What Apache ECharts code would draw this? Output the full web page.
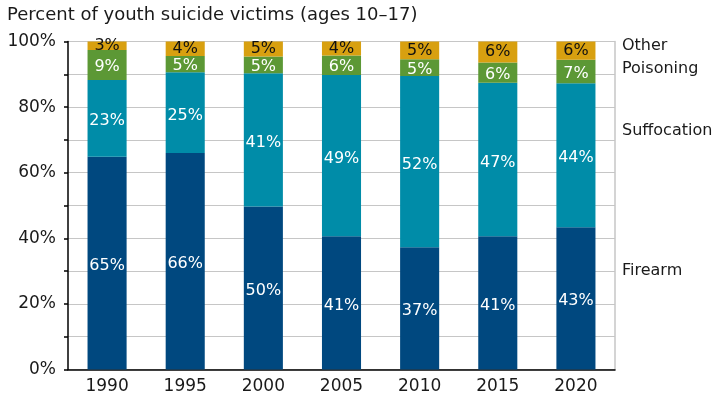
<!DOCTYPE html>
<html>
<head>
<meta charset="utf-8">
<script src="https://cdn.jsdelivr.net/npm/echarts@6/dist/echarts.min.js"></script>
<style>
  html, body { margin: 0; padding: 0; background: #fff; }
  #chart { width: 712px; height: 396px; }
</style>
</head>
<body>
<div id="chart"></div>
<script>
// values (percent of victims)
var years = ['1990', '1995', '2000', '2005', '2010', '2015', '2020'];
var firearm     = [64.9, 66.0, 49.7, 40.6, 37.3, 40.6, 43.4];
var suffocation = [23.4, 24.6, 40.6, 49.2, 52.2, 46.8, 43.9];
var poisoning   = [9.1, 5.0, 5.1, 5.9, 5.1, 6.2, 7.1];
var other       = [2.6, 4.4, 4.6, 4.3, 5.4, 6.4, 5.6];

var seriesNames = ['Firearm', 'Suffocation', 'Poisoning', 'Other'];
var seriesColors = ['#00487f', '#008ca8', '#5c9835', '#d8a010'];
var labelColors = ['#fff', '#fff', '#fff', '#111'];
var labelShift = [3, 3, 2, 0];
// where the right-hand names sit, in axis percent
var nameAt = [29.5, 72, 91, 98];

var FONT = 'DejaVu Sans';
var chart = echarts.init(document.getElementById('chart'));

var dataSets = [firearm, suffocation, poisoning, other];
var series = [];
for (var i = 0; i < dataSets.length; i++) {
  series.push({
    name: seriesNames[i],
    type: 'bar',
    stack: 'all',
    barWidth: '50%',
    data: dataSets[i],
    itemStyle: { color: seriesColors[i] },
    label: {
      show: true,
      position: 'inside',
      offset: [0, labelShift[i]],
      fontFamily: FONT,
      fontSize: 16,
      color: labelColors[i],
      formatter: function (p) { return Math.round(p.value) + '%'; }
    },
    emphasis: { disabled: true }
  });
}

var option = {
  animation: false,
  title: {
    text: 'Percent of youth suicide victims (ages 10\u201317)',
    left: 7,
    top: 6,
    padding: 0,
    textStyle: { fontFamily: FONT, fontSize: 18, fontWeight: 'normal', color: '#1a1a1a' }
  },
  grid: { left: 68, right: 97, top: 41.5, bottom: 26.5 },
  xAxis: {
    type: 'category',
    data: years,
    axisLine: { lineStyle: { color: '#000', width: 1.5 } },
    axisTick: { show: false },
    axisLabel: { fontFamily: FONT, fontSize: 17, color: '#1a1a1a', margin: 9 }
  },
  yAxis: [{
    type: 'value',
    min: 0,
    max: 100,
    interval: 10,
    axisLine: { show: true, lineStyle: { color: '#000', width: 1.5 } },
    axisTick: { show: true, length: 4, lineStyle: { color: '#000', width: 1.5 } },
    axisLabel: {
      fontFamily: FONT, fontSize: 17, color: '#1a1a1a', margin: 12,
      formatter: function (v) { return v % 20 === 0 ? v + '%' : ''; }
    },
    splitLine: { lineStyle: { color: '#c6c6c6', width: 1.2 } }
  }, {
    type: 'value',
    position: 'right',
    min: 0,
    max: 100,
    interval: 10,
    axisLine: { show: true, lineStyle: { color: '#c6c6c6', width: 1.5 } },
    axisTick: { show: false },
    axisLabel: { show: false },
    splitLine: { show: false }
  }],
  series: series
};
chart.setOption(option);

// names of the causes, placed to the right of the plot at given axis values
var texts = [];
for (var k = 0; k < seriesNames.length; k++) {
  var pt = chart.convertToPixel({ gridIndex: 0 }, [years.length - 1, nameAt[k]]);
  texts.push({
    type: 'text',
    left: 622,
    top: pt[1] - 10,
    style: {
      text: seriesNames[k],
      fontFamily: FONT,
      fontSize: 16,
      fill: '#1a1a1a',
      textVerticalAlign: 'top'
    }
  });
}
chart.setOption({ graphic: texts });
</script>
</body>
</html>
